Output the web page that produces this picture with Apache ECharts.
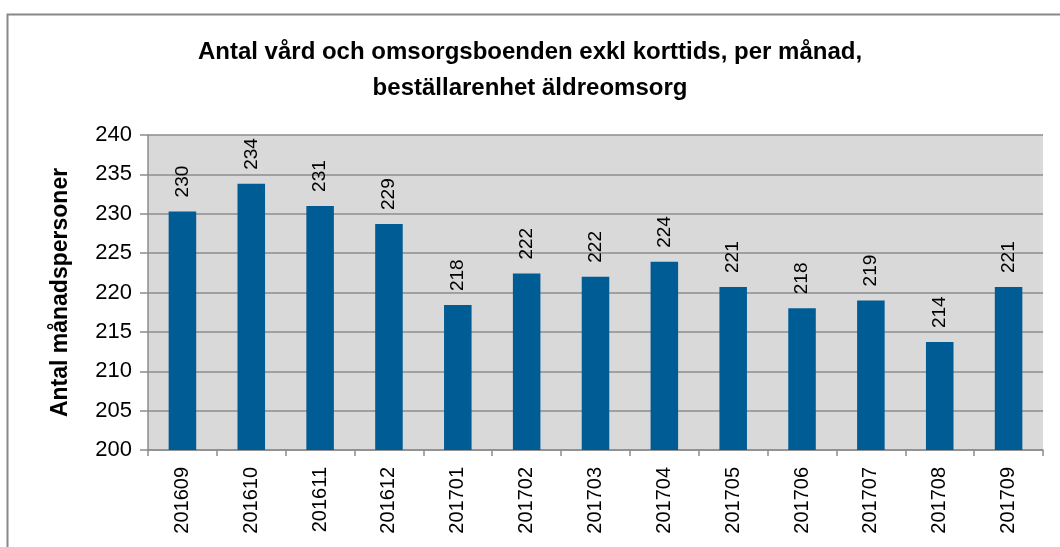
<!DOCTYPE html>
<html>
<head>
<meta charset="utf-8">
<script src="https://cdn.jsdelivr.net/npm/echarts@6/dist/echarts.min.js"></script>
<style>
  html, body { margin: 0; padding: 0; background: #fff; }
  #chart { width: 1060px; height: 547px; }
</style>
</head>
<body>
<div id="chart"></div>
<script>
// data
const months = ['201609', '201610', '201611', '201612', '201701', '201702', '201703',
  '201704', '201705', '201706', '201707', '201708', '201709'];
const personer = [230.3, 233.8, 231.0, 228.7, 218.4, 222.4, 222.0, 223.9, 220.7, 218.0, 219.0, 213.7, 220.7];
const yTicks = [200, 205, 210, 215, 220, 225, 230, 235, 240];

const chart = echarts.init(document.getElementById('chart'));

const option = {
  animation: false,
  backgroundColor: '#fff',
  textStyle: {fontFamily: 'Liberation Sans, Arial, sans-serif'},
  title: {
    text: 'Antal vård och omsorgsboenden exkl korttids, per månad,\nbeställarenhet äldreomsorg',
    left: 'center',
    top: 34,
    padding: [0, 0, 0, 24],
    textStyle: {
      fontSize: 24,
      fontWeight: 'bold',
      color: '#000',
      lineHeight: 36
    }
  },
  graphic: [{
    type: 'rect',
    left: 5,
    top: 12,
    shape: {width: 1080, height: 600},
    style: {fill: 'none', stroke: '#888', lineWidth: 2},
    silent: true,
    z: -1
  }],
  grid: {
    left: 148,
    right: 17,
    top: 135,
    bottom: 97,
    show: true,
    backgroundColor: '#d9d9d9',
    borderWidth: 0
  },
  xAxis: {
    type: 'category',
    data: months,
    axisLine: {lineStyle: {color: '#8c8c8c', width: 1.5}},
    axisTick: {show: true, length: 6, lineStyle: {color: '#8c8c8c', width: 1.5}},
    axisLabel: {
      rotate: 90,
      margin: 17,
      fontSize: 20,
      color: '#000'
    }
  },
  yAxis: {
    type: 'value',
    min: yTicks[0],
    max: yTicks[yTicks.length - 1],
    interval: 5,
    name: 'Antal månadspersoner',
    nameLocation: 'middle',
    nameGap: 76,
    nameTextStyle: {fontSize: 23, fontWeight: 'bold', color: '#000'},
    axisLine: {show: true, lineStyle: {color: '#8c8c8c', width: 1.5}},
    axisTick: {show: true, length: 8, lineStyle: {color: '#8c8c8c', width: 1.5}},
    axisLabel: {fontSize: 22, color: '#000', margin: 16},
    splitLine: {lineStyle: {color: '#8c8c8c', width: 1.5}}
  },
  series: [{
    type: 'bar',
    data: personer,
    barWidth: '40%',
    itemStyle: {color: '#005c94'},
    label: {
      show: true,
      position: 'top',
      rotate: 90,
      align: 'left',
      verticalAlign: 'middle',
      distance: 14,
      fontSize: 19,
      color: '#000',
      formatter: p => Math.round(p.value)
    }
  }]
};

chart.setOption(option);
</script>
</body>
</html>
